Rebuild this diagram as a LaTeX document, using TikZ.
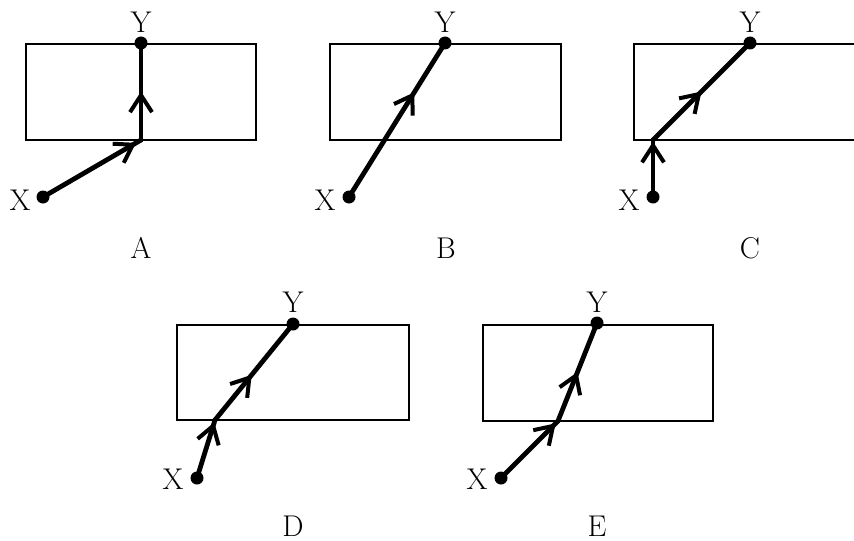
\documentclass[tikz,border=0pt]{standalone}
\usetikzlibrary{arrows.meta,decorations.markings}
\begin{document}
\begin{tikzpicture}[x=0.5pt,y=-0.5pt,
  box/.style={line width=1.1pt},
  ray/.style={line width=2.4pt,line cap=round},
  dotnode/.style={circle,fill=black,inner sep=0pt,minimum size=6.5pt},
  lbl/.style={inner sep=0pt,font=\fontsize{15}{17}\selectfont},
  marr/.style={postaction={decorate},decoration={markings,
     mark=at position #1 with {\arrow{Straight Barb[length=8.5pt,width=11pt,line width=2pt]}}}}]
\useasboundingbox[fill=white] (0,0) rectangle (854,540);

% ---------- A ----------
\draw[box] (26,44) rectangle (256,140);
\node[dotnode] (XA) at (43,197) {};
\node[dotnode] (YA) at (141,43) {};
\coordinate (JA) at (141,140);
\draw[ray,marr=0.95] (XA.center) -- (JA);
\draw[ray,marr=0.5] (JA) -- (YA.center);
\node[lbl] (tXA) at (20,200) {X};
\node[lbl] (tYA) at (141,22) {Y};
\node[lbl] (cA) at (141,248) {A};

% ---------- B ----------
\draw[box] (330,44) rectangle (561,140);
\node[dotnode] (XB) at (349,197) {};
\node[dotnode] (YB) at (445,43) {};
\draw[ray,marr=0.68] (XB.center) -- (YB.center);
\node[lbl] (tXB) at (325,200) {X};
\node[lbl] (tYB) at (445,22) {Y};
\node[lbl] (cB) at (446,248) {B};

% ---------- C ----------
\draw[box] (870,44) -- (634,44) -- (634,140) -- (870,140);
\node[dotnode] (XC) at (653,197) {};
\node[dotnode] (YC) at (750,43) {};
\coordinate (JC) at (653,140);
\draw[ray,marr=0.97] (XC.center) -- (JC);
\draw[ray,marr=0.5] (JC) -- (YC.center);
\node[lbl] (tXC) at (629,200) {X};
\node[lbl] (tYC) at (750,22) {Y};
\node[lbl] (cC) at (750,248) {C};

% ---------- D ----------
\draw[box] (177,325) rectangle (409,420);
\node[dotnode] (XD) at (197,478) {};
\node[dotnode] (YD) at (293,324) {};
\coordinate (JD) at (215,420);
\draw[ray,marr=0.96] (XD.center) -- (JD);
\draw[ray,marr=0.47] (JD) -- (YD.center);
\node[lbl] (tXD) at (173,479) {X};
\node[lbl] (tYD) at (293,302) {Y};
\node[lbl] (cD) at (293,526) {D};

% ---------- E ----------
\draw[box] (483,325) rectangle (713,421);
\node[dotnode] (XE) at (501,478) {};
\node[dotnode] (YE) at (597,323) {};
\coordinate (JE) at (558,421);
\draw[ray,marr=0.96] (XE.center) -- (JE);
\draw[ray,marr=0.5] (JE) -- (YE.center);
\node[lbl] (tXE) at (477,479) {X};
\node[lbl] (tYE) at (597,302) {Y};
\node[lbl] (cE) at (597,526) {E};
\end{tikzpicture}
\end{document}
